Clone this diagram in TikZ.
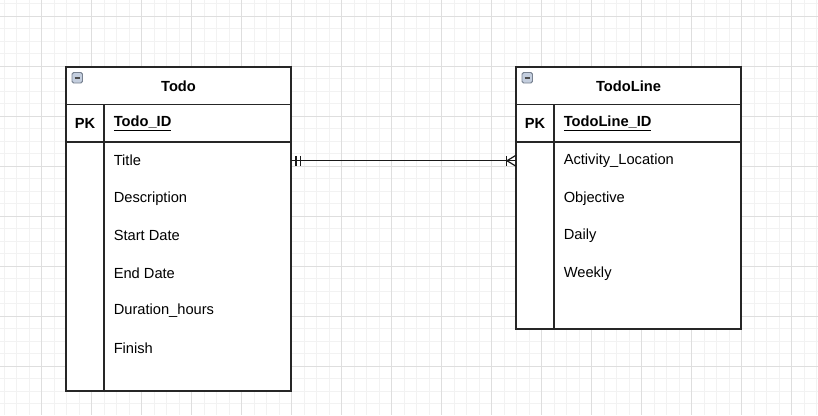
\documentclass[tikz,border=0pt]{standalone}
\usepackage{fontspec}
\setmainfont{Liberation Sans}
\definecolor{iconfill}{RGB}{196,206,222}
\definecolor{iconline}{RGB}{120,130,145}
\begin{document}
\begin{tikzpicture}[x=0.75pt,y=-0.75pt,
  ent/.style={draw=black!85,line width=1.1pt},
  minorl/.style={draw=black!5,line width=0.75pt},
  majorl/.style={draw=black!13,line width=0.75pt},
  field/.style={anchor=west,inner sep=0pt,font=\fontsize{11}{13}\selectfont},
  keyf/.style={anchor=west,inner sep=0pt,font=\fontsize{11}{13}\selectfont\bfseries},
  pkl/.style={inner sep=0pt,font=\fontsize{11}{13}\selectfont\bfseries},
  ttl/.style={inner sep=0pt,font=\fontsize{11}{13}\selectfont\bfseries},
  icon/.style={draw=iconline,fill=iconfill,rounded corners=1.2pt,line width=0.7pt},
  conn/.style={draw=black!90,line width=0.9pt}]
\useasboundingbox (0,0) rectangle (818,415);
\fill[white] (0,0) rectangle (818,415);
% grid
\foreach \i in {0,...,65} \draw[minorl] ({4.2+12.5*\i},0) -- ++(0,415);
\foreach \i in {0,...,33} \draw[minorl] (0,{3.5+12.5*\i}) -- ++(818,0);
\foreach \i in {0,...,15} \draw[majorl] ({41.7+50*\i},0) -- ++(0,415);
\foreach \i in {0,...,7} \draw[majorl] (0,{16+50*\i}) -- ++(818,0);
% Todo entity
\fill[white] (66,67) rectangle (291,391);
\draw[ent] (66,67) rectangle (291,391);
\draw[ent] (66,104.5) -- (291,104.5);
\draw[ent] (66,142) -- (291,142);
\draw[ent] (104,104.5) -- (104,391);
\draw[icon] (72,72.5) rectangle (82.5,83);
\draw[black!70,line width=1.2pt] (74.5,77.75) -- (80,77.75);
\node[ttl] (todo) at (178.5,86) {Todo};
\node[pkl] (todopk) at (85,123.25) {PK};
\node[keyf] (todoid) at (113.5,123.25) {\underline{Todo\_ID}};
\node[field] (title) at (113.5,160.75) {Title};
\node[field] (desc) at (113.5,198.25) {Description};
\node[field] (start) at (113.5,235.75) {Start Date};
\node[field] (end) at (113.5,273.25) {End Date};
\node[field] (dur) at (113.5,310.75) {Duration\_hours};
\node[field] (fin) at (113.5,348.25) {Finish};
% TodoLine entity
\fill[white] (516,67) rectangle (741,329);
\draw[ent] (516,67) rectangle (741,329);
\draw[ent] (516,104.5) -- (741,104.5);
\draw[ent] (516,142) -- (741,142);
\draw[ent] (554,104.5) -- (554,329);
\draw[icon] (522,72.5) rectangle (532.5,83);
\draw[black!70,line width=1.2pt] (524.5,77.75) -- (530,77.75);
\node[ttl] (todoline) at (628.5,86) {TodoLine};
\node[pkl] (linepk) at (535,123.25) {PK};
\node[keyf] (lineid) at (563.5,123.25) {\underline{TodoLine\_ID}};
\node[field] (act) at (563.5,160.75) {Activity\_Location};
\node[field] (obj) at (563.5,198.25) {Objective};
\node[field] (daily) at (563.5,235.75) {Daily};
\node[field] (weekly) at (563.5,273.25) {Weekly};
% connector
\coordinate (ca) at (291,160.75);
\coordinate (cb) at (516,160.75);
\draw[conn] (ca) -- (cb);
\draw[conn] (ca) ++(5,-5) -- ++(0,10);
\draw[conn] (ca) ++(9.5,-5) -- ++(0,10);
\draw[conn] (cb) ++(-9.5,-5) -- ++(0,10);
\draw[conn] (cb) ++(-9,0) -- ++(9,-5.5);
\draw[conn] (cb) ++(-9,0) -- ++(9,5.5);
\end{tikzpicture}
\end{document}
